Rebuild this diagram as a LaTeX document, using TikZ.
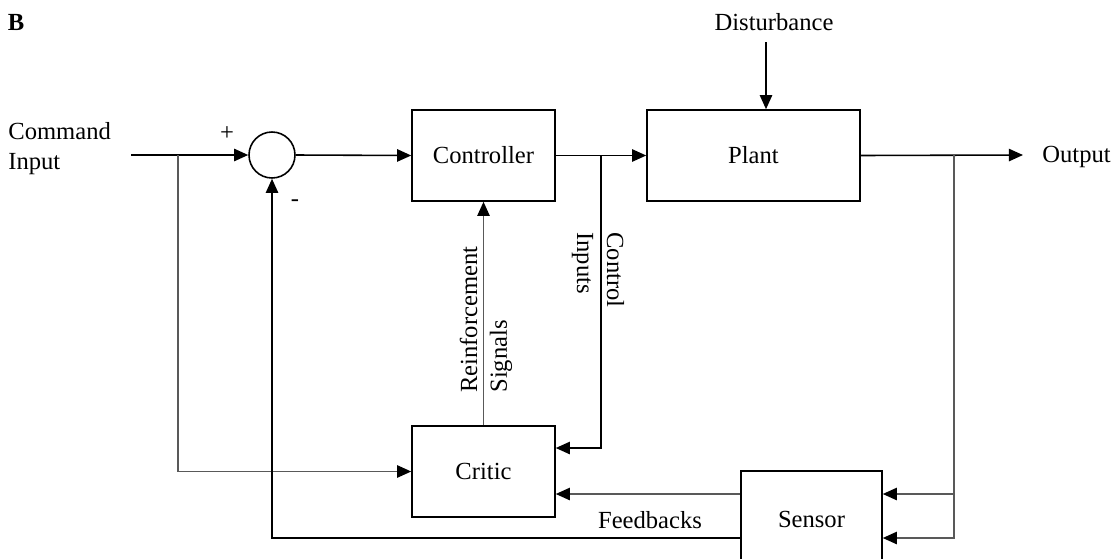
\documentclass[tikz,border=0pt]{standalone}
\usepackage{fontspec}
\setmainfont{Liberation Serif}
\usepackage{tikz}
\usetikzlibrary{positioning,arrows.meta,calc}
\tikzset{
  block/.style={
    rectangle,
    draw,
    line width=0.9pt,
    minimum width=2.86cm,
    minimum height=1.82cm,
    font=\fontsize{14}{17}\selectfont
  },
  sumnode/.style={
    circle,
    draw,
    line width=0.9pt,
    minimum size=0.92cm,
    inner sep=0pt
  },
  label text/.style={
    font=\fontsize{14}{17}\selectfont,
    inner sep=0pt
  },
  arrow/.style={
    -{Triangle[length=8pt,width=7pt,color=black]},
    line width=0.9pt
  },
  grey wire/.style={draw=black!65}
}
\begin{document}
\begin{tikzpicture}[x=0.02cm, y=-0.02cm]
  \useasboundingbox (0,0) rectangle (1115,558);

  % Main blocks
  \node[sumnode] (sum) at (272,155) {};
  \node[block] (ctrl) at (483.5,155.5) {Controller};
  \node[block, minimum width=4.26cm] (plant) at (753.5,155.5) {Plant};
  \node[block] (critic) at (483.5,471.5) {Critic};
  \node[block, minimum width=2.82cm, minimum height=1.92cm] (sensor) at (811.5,519) {Sensor};

  % Texts
  \node[label text, font=\fontsize{14}{17}\selectfont\bfseries] (tag) at (16,22) {B};
  \node[label text, anchor=west, align=left] (cmd) at (8,149) {Command\\Input};
  \node[label text] (dist) at (774,22) {Disturbance};
  \node[label text, anchor=west] (outlbl) at (1042,157) {Output};
  \node[label text] (plus) at (227,134) {+};
  \node[label text] (minus) at (295,203) {-};
  \node[label text] (fblbl) at (650,520) {Feedbacks};
  \node[label text, rotate=90, anchor=west, align=left] (rein) at (486,393) {Reinforcement\\Signals};
  \node[label text, rotate=-90, anchor=west, align=left] (cin) at (598,232) {Control\\Inputs};

  % Split points
  \coordinate (in) at (131,155);
  \coordinate (split1) at (178,155);
  \coordinate (split2) at (601,155);
  \coordinate (split3) at (954,155);
  \coordinate (out) at (1023,155);
  \coordinate (dtop) at (766,42);
  \coordinate (ci) at ($(critic.east)+(0,-23.5)$);
  \coordinate (s1) at ($(sensor.east)+(0,-25)$);
  \coordinate (s2) at ($(sensor.east)+(0,19)$);
  \coordinate (fb1) at ($(sensor.west)+(0,-25)$);
  \coordinate (fb2) at ($(sensor.west)+(0,19)$);

  % Forward path
  \draw[arrow] (in) -- (sum.west);
  \draw[arrow] (sum.east) -- (ctrl.west);
  \draw[arrow] (ctrl.east) -- (plant.west);
  \draw[arrow] (plant.east) -- (out);
  \draw[arrow] (dtop) -- (dtop |- plant.north);

  % Critic paths
  \draw[arrow, grey wire] (split1) |- (critic.west);
  \draw[arrow] (split2) |- (ci);
  \draw[arrow, grey wire] (critic.north) -- (ctrl.south);

  % Sensor paths
  \draw[arrow, grey wire] (split3) |- (s1);
  \draw[arrow, grey wire] (split3) |- (s2);
  \draw[arrow, grey wire] (fb1) -- (fb1 -| critic.east);
  \draw[arrow] (fb2) -| (sum.south);

\end{tikzpicture}
\end{document}
